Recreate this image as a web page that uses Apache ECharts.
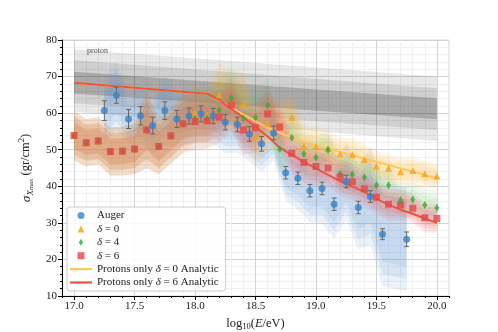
<!DOCTYPE html>
<html><head><meta charset="utf-8">
<script src="https://cdn.jsdelivr.net/npm/echarts@6/dist/echarts.min.js"></script>
<style>html,body{margin:0;padding:0;background:#fff}#c{width:498px;height:332px}</style>
</head><body><div id="c"></div>
<script>
// ---------------- data ----------------
const simX = [17.0,17.1,17.2,17.3,17.4,17.5,17.6,17.7,17.8,17.9,18.0,18.1,18.2,18.3,18.4,18.5,18.6,18.7,18.8,18.9,19.0,19.1,19.2,19.3,19.4,19.5,19.6,19.7,19.8,19.9,20.0];
const delta6Y = [53.9,51.9,52.4,49.5,49.6,50.2,55.4,50.9,53.8,57.1,57.7,57.9,58.9,62.2,55.4,56.0,59.8,56.2,49.0,46.5,45.4,45.0,42.5,41.2,39.3,37.0,35.1,34.9,34.0,31.4,31.2];
const delta4Y = [53.9,51.9,52.4,49.5,49.6,50.2,55.4,50.9,53.8,57.1,58.5,58.6,60.8,64.1,58.6,58.8,62.1,50.1,53.3,48.9,47.9,49.9,43.4,43.2,42.5,40.3,40.3,36.2,36.4,34.9,34.1];
const delta0Y = [53.9,51.9,52.4,49.5,49.6,50.2,55.4,50.9,53.8,57.1,60.1,59.4,65.0,63.0,62.6,53.7,57.2,56.5,58.9,51.0,50.9,50.4,48.8,48.6,47.3,45.5,44.9,44.0,44.3,43.4,42.8];
const delta6Sigma = [3.6,3.4,3.4,3.5,3.5,3.6,5.5,4.0,4.0,4.2,4.2,4.0,3.8,3.8,3.6,3.6,3.4,3.2,3.0,2.9,2.8,2.7,2.6,2.6,2.5,2.4,2.3,2.2,2.2,2.1,2.1];
const delta4Sigma = [3.6,3.4,3.4,3.5,3.5,3.6,5.5,4.0,4.0,4.2,4.2,4.2,4.4,4.6,4.2,4.0,4.0,3.6,3.4,3.2,3.0,2.9,2.8,2.8,2.7,2.6,2.6,2.5,2.5,2.4,2.4];
const delta0Sigma = [3.6,3.4,3.4,3.5,3.5,3.6,5.5,4.0,4.0,4.2,4.2,4.2,4.4,4.6,4.4,4.2,4.0,3.6,3.4,3.0,2.8,2.6,2.5,2.4,2.3,2.2,2.1,2.0,2.0,1.9,1.8];

const augerX = [17.25,17.35,17.45,17.55,17.65,17.75,17.85,17.95,18.05,18.15,18.25,18.35,18.45,18.55,18.65,18.75,18.85,18.95,19.05,19.15,19.25,19.35,19.45,19.55,19.75];
const augerY = [60.7,64.9,58.4,59.3,56.6,60.7,58.4,59.2,59.8,59.2,57.5,56.9,54.3,51.6,54.6,43.7,42.2,38.8,39.4,35.1,41.3,34.2,37.2,26.9,25.5];
const augerErr = [2.7,2.2,2.6,2.5,2.3,2.4,2.3,2.2,2.2,2.1,2.1,2.0,2.0,2.0,1.9,1.7,1.7,1.7,1.7,1.7,1.7,1.7,1.6,1.5,2.0];
const augerSigma = [4.5,5.0,3.5,4.0,4.0,5.0,4.0,4.0,4.0,4.0,4.5,4.0,4.0,4.0,4.0,4.0,4.5,4.5,5.0,5.0,5.5,6.0,7.0,7.5,7.5];

const lineX = [17.0,18.1,18.2,18.3,18.4,18.5,18.6,18.7,18.8,18.9,19.0,19.1,19.2,19.3,19.4,19.5,19.6,19.7,19.8,19.9,20.0];
const analytic6 = [68.3,65.3,63.6,61.2,58.8,56.3,53.6,50.6,48.6,46.7,44.9,43.1,41.4,39.9,38.5,36.6,34.9,33.6,32.5,31.2,30.0];
const analytic0 = [68.3,65.3,63.5,61.5,59.6,57.8,56.0,54.6,53.3,52.2,51.2,50.3,49.4,48.5,47.6,46.7,45.8,44.9,44.0,43.1,42.2];

const protonX = [17.0,20.0];
const protonOuterHi = [77.5,70.0], protonMidHi = [74.5,66.8], protonInnerHi = [71.3,64.1];
const protonInnerLo = [65.4,58.3], protonMidLo = [62.7,55.4], protonOuterLo = [60.4,52.4];

const xTicks = [17.0,17.5,18.0,18.5,19.0,19.5,20.0];
const yTicks = [10,20,30,40,50,60,70,80];
const bandLevels = [1.9,1.45,1.0];

// ---------------- helpers ----------------
const FONT = 'Liberation Serif';
function polygonSeries(xs, lo, hi, color, alpha, z) {
  return {
    type: 'custom', silent: true, z: z, clip: true,
    data: xs.map((x, i) => [x, lo[i], hi[i]]),
    encode: {x: 0, y: [1, 2]},
    renderItem: function (params, api) {
      if (params.dataIndex !== 0) return null;
      const pts = [];
      for (let i = 0; i < xs.length; i++) pts.push(api.coord([xs[i], hi[i]]));
      for (let i = xs.length - 1; i >= 0; i--) pts.push(api.coord([xs[i], lo[i]]));
      return {type: 'polygon', shape: {points: pts}, style: {fill: color, opacity: alpha}};
    }
  };
}
function bandSeries(xs, center, sigma, color, alpha, z) {
  return bandLevels.map(k => polygonSeries(xs,
    center.map((c, i) => c - k * sigma[i]),
    center.map((c, i) => c + k * sigma[i]), color, alpha, z));
}

const C_BLUE = '#3b82c4', C_ORANGE = '#f5a21a', C_GREEN = '#38a838', C_RED = '#e0474a';

const series = [];
series.push(polygonSeries(protonX, protonOuterLo, protonOuterHi, '#000', 0.09, 1));
series.push(polygonSeries(protonX, protonMidLo, protonMidHi, '#000', 0.10, 1));
series.push(polygonSeries(protonX, protonInnerLo, protonInnerHi, '#000', 0.19, 1));
series.push(...bandSeries(augerX, augerY, augerSigma, '#5b93d3', 0.13, 2));
series.push(...bandSeries(simX, delta0Y, delta0Sigma, '#ffa91f', 0.11, 3));
series.push(...bandSeries(simX, delta4Y, delta4Sigma, '#4cbb4c', 0.065, 3));
series.push(...bandSeries(simX, delta6Y, delta6Sigma, '#f04a4f', 0.12, 3));

series.push({
  name: 'Protons only δ = 0 Analytic', type: 'line', z: 5, symbol: 'none',
  data: lineX.map((x, i) => [x, analytic0[i]]),
  lineStyle: {color: '#ffc75e', width: 2}, itemStyle: {color: '#ffc75e'}
});
series.push({
  name: 'Protons only δ = 6 Analytic', type: 'line', z: 5, symbol: 'none',
  data: lineX.map((x, i) => [x, analytic6[i]]),
  lineStyle: {color: '#e9553f', width: 2}, itemStyle: {color: '#e9553f'}
});
series.push({
  type: 'custom', z: 6, silent: true,
  data: augerX.map((x, i) => [x, augerY[i] - augerErr[i], augerY[i] + augerErr[i]]),
  encode: {x: 0, y: [1, 2]},
  renderItem: function (params, api) {
    const x = api.value(0);
    const lo = api.coord([x, api.value(1)]), hi = api.coord([x, api.value(2)]);
    const w = 2.5, st = {stroke: '#666', lineWidth: 1};
    return {type: 'group', children: [
      {type: 'line', shape: {x1: lo[0], y1: lo[1], x2: hi[0], y2: hi[1]}, style: st},
      {type: 'line', shape: {x1: lo[0] - w, y1: lo[1], x2: lo[0] + w, y2: lo[1]}, style: st},
      {type: 'line', shape: {x1: hi[0] - w, y1: hi[1], x2: hi[0] + w, y2: hi[1]}, style: st}
    ]};
  }
});
series.push({name: 'Auger', type: 'scatter', z: 7, symbol: 'circle', symbolSize: 7,
  data: augerX.map((x, i) => [x, augerY[i]]), itemStyle: {color: C_BLUE}});
series.push({name: 'δ = 0', type: 'scatter', z: 7, symbol: 'triangle', symbolSize: 7,
  data: simX.map((x, i) => [x, delta0Y[i]]), itemStyle: {color: C_ORANGE}});
series.push({name: 'δ = 4', type: 'scatter', z: 7, symbol: 'diamond', symbolSize: [5, 8],
  data: simX.map((x, i) => [x, delta4Y[i]]), itemStyle: {color: C_GREEN}});
series.push({name: 'δ = 6', type: 'scatter', z: 7, symbol: 'rect', symbolSize: 7,
  data: simX.map((x, i) => [x, delta6Y[i]]), itemStyle: {color: C_RED}});

const chart = echarts.init(document.getElementById('c'), null, {renderer: 'canvas'});
chart.setOption({
  animation: false,
  backgroundColor: '#fff',
  grid: {left: 62, right: 49, top: 40, bottom: 36, show: true, borderColor: '#d4d4d4', borderWidth: 1,
    containLabel: false, outerBoundsMode: 'none'},
  graphic: [{type: 'text', left: 87, top: 47, z: 10,
    style: {text: 'proton', font: '8px ' + FONT, fill: '#555'}}],
  legend: {
    orient: 'vertical', left: 67, top: 207, padding: [3, 7, 3, 3], z: 20,
    itemWidth: 22, itemHeight: 7, itemGap: 2.4, symbolKeepAspect: true,
    backgroundColor: 'rgba(255,255,255,0.85)', borderColor: '#ccc', borderWidth: 1, borderRadius: 3,
    data: [
      {name: 'Auger', icon: 'circle'},
      {name: 'δ = 0', icon: 'path://M0,-1L1,1L-1,1Z'},
      {name: 'δ = 4', icon: 'path://M0,-1.6L1,0L0,1.6L-1,0Z'},
      {name: 'δ = 6', icon: 'path://M0,0L1,0L1,1L0,1Z'},
      {name: 'Protons only δ = 0 Analytic', icon: 'path://M0,0L20,0L20,2L0,2Z'},
      {name: 'Protons only δ = 6 Analytic', icon: 'path://M0,0L20,0L20,2L0,2Z'}
    ],
    formatter: n => n.replace('δ', '{i|δ}'),
    textStyle: {fontFamily: FONT, fontSize: 11, color: '#222', lineHeight: 11,
      rich: {i: {fontFamily: FONT, fontSize: 11, fontStyle: 'italic', color: '#222', lineHeight: 11}}}
  },
  xAxis: [{
    type: 'value', min: 16.9, max: 20.1, interval: 0.1,
    axisLine: {show: true, onZero: false, lineStyle: {color: '#000', width: 1}},
    axisTick: {show: true, length: 2, lineStyle: {color: '#000'}},
    axisLabel: {show: false},
    splitLine: {show: true, lineStyle: {color: '#ededed', width: 0.8}}
  }, {
    type: 'value', min: 16.9, max: 20.1, position: 'bottom',
    axisLine: {show: false},
    axisTick: {show: true, length: 4, customValues: xTicks, lineStyle: {color: '#000'}},
    axisLabel: {show: true, customValues: xTicks, formatter: v => v.toFixed(1), margin: 5,
      fontFamily: FONT, fontSize: 11, color: '#222'},
    splitLine: {show: true, lineStyle: {color: '#d4d4d4', width: 1}},
    name: '{n|log}{s|10}{n|(}{i|E}{n|/eV)}', nameLocation: 'middle', nameGap: 18,
    nameTextStyle: {rich: {
      n: {fontFamily: FONT, fontSize: 12.5, color: '#222', lineHeight: 16},
      i: {fontFamily: FONT, fontSize: 12.5, fontStyle: 'italic', color: '#222', lineHeight: 16},
      s: {fontFamily: FONT, fontSize: 8.5, color: '#222', lineHeight: 8, verticalAlign: 'bottom'}
    }}
  }],
  yAxis: {
    type: 'value', min: 10, max: 80, interval: 10,
    axisLine: {show: true, lineStyle: {color: '#000', width: 1}},
    axisTick: {show: true, length: 4, lineStyle: {color: '#000'}},
    minorTick: {show: true, splitNumber: 5, length: 2, lineStyle: {color: '#000'}},
    minorSplitLine: {show: true, lineStyle: {color: '#ededed', width: 0.8}},
    splitLine: {show: true, lineStyle: {color: '#d4d4d4', width: 1}},
    axisLabel: {fontFamily: FONT, fontSize: 11, color: '#222', margin: 5},
    name: '{g|σ}{s|X}{ss|max} {n|(gr/cm}{p|2}{n|)}', nameLocation: 'middle', nameGap: 25, nameRotate: 90,
    nameTextStyle: {rich: {
      g: {fontFamily: FONT, fontSize: 13.5, fontStyle: 'italic', color: '#222', lineHeight: 18},
      n: {fontFamily: FONT, fontSize: 12.5, color: '#222', lineHeight: 18},
      s: {fontFamily: FONT, fontSize: 9, fontStyle: 'italic', color: '#222', lineHeight: 11, verticalAlign: 'bottom'},
      ss: {fontFamily: FONT, fontSize: 6.5, color: '#222', lineHeight: 6, verticalAlign: 'bottom'},
      p: {fontFamily: FONT, fontSize: 8.5, color: '#222', lineHeight: 9, verticalAlign: 'top'}
    }}
  },
  series: series
});
</script></body></html>
